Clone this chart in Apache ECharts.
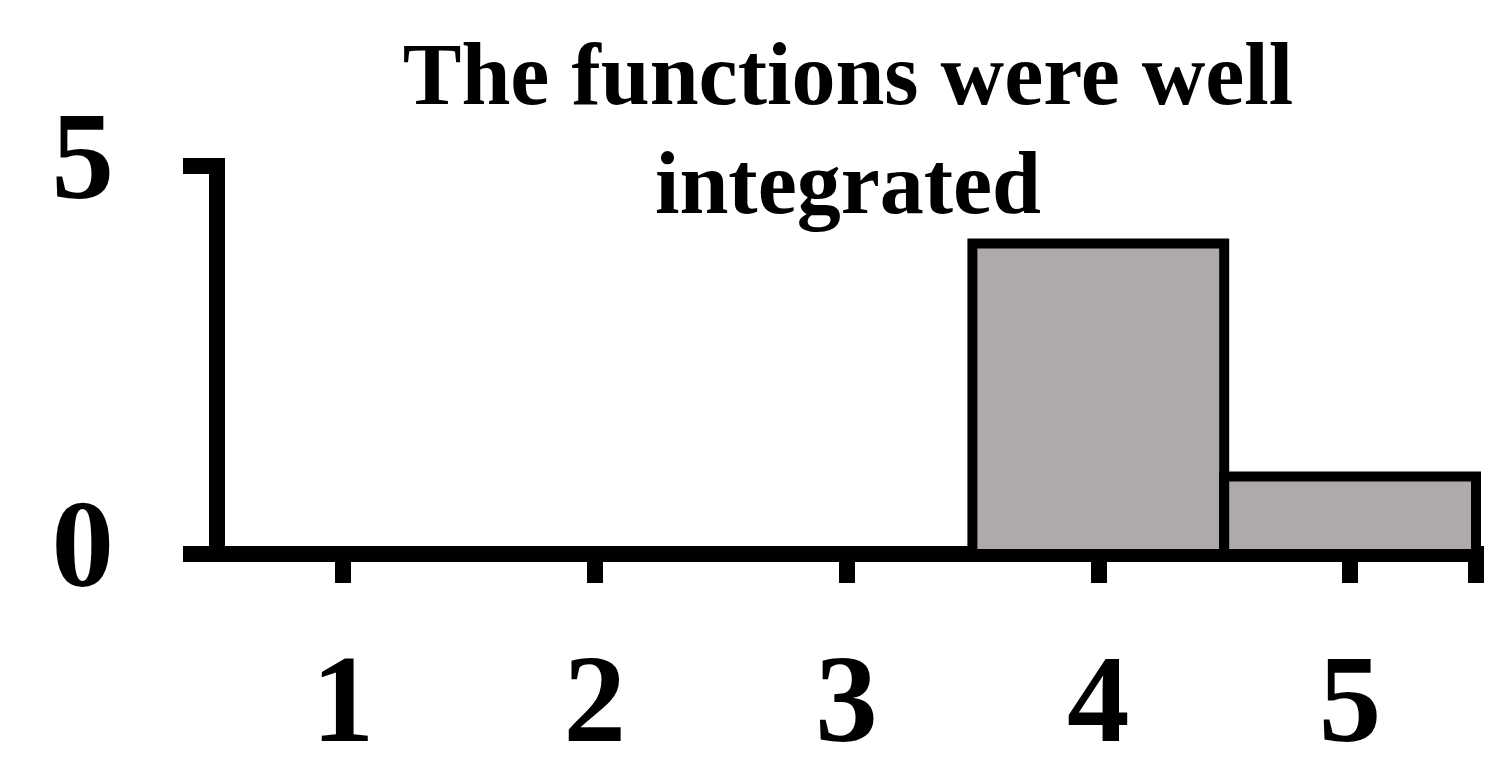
<!DOCTYPE html>
<html>
<head>
<meta charset="utf-8">
<script src="https://cdn.jsdelivr.net/npm/echarts@6/dist/echarts.min.js"></script>
<style>
  html, body { margin: 0; padding: 0; background: #fff; }
  #chart { width: 1493px; height: 782px; }
</style>
</head>
<body>
<div id="chart"></div>
<script>
// rating categories and counts
const categories = ['1', '2', '3', '4', '5'];
const counts = [0, 0, 0, 4, 1];
const titleText = 'The functions were well\nintegrated';
const yMin = 0;
const yMax = 5;

const serif = "'Liberation Serif', 'Times New Roman', serif";

const chart = echarts.init(document.getElementById('chart'), null, { renderer: 'canvas' });

// histogram bars: outline centred on the bar edges so neighbours share one line
function renderBar(params, api) {
    const idx = api.value(0);
    const val = api.value(1);
    if (!val) return null;
    const base = api.coord([idx, 0]);
    const top = api.coord([idx, val]);
    const w = api.size([1, 0])[0];
    return {
        type: 'rect',
        shape: { x: base[0] - w / 2, y: top[1], width: w, height: base[1] - top[1] },
        style: { fill: '#aeaaa9', stroke: '#000', lineWidth: 10 }
    };
}

const options = {
    backgroundColor: '#fff',
    animation: false,
    title: {
        text: titleText,
        left: 848,
        top: 27,
        textAlign: 'center',
        padding: 0,
        textStyle: { fontFamily: serif, fontWeight: 'bold', fontSize: 88, lineHeight: 109, color: '#000' }
    },
    grid: { left: 217, right: 17, top: 166, bottom: 228, containLabel: false },
    xAxis: [
        {
            type: 'category',
            data: categories,
            boundaryGap: true,
            axisLine: { lineStyle: { color: '#000', width: 16, cap: 'square' } },
            axisTick: { show: true, alignWithLabel: true, length: 29, lineStyle: { color: '#000', width: 16 } },
            axisLabel: { margin: 92, fontFamily: serif, fontWeight: 'bold', fontSize: 125, color: '#000' },
            splitLine: { show: false }
        },
        {
            // only draws the closing tick at the right end of the axis
            type: 'value',
            min: 0,
            max: 1,
            position: 'bottom',
            axisLine: { show: false },
            axisTick: { show: true, customValues: [1], length: 29, lineStyle: { color: '#000', width: 16 } },
            axisLabel: { show: false },
            splitLine: { show: false }
        }
    ],
    yAxis: {
        type: 'value',
        min: yMin,
        max: yMax,
        interval: 5,
        axisLine: { show: true, lineStyle: { color: '#000', width: 16, cap: 'square' } },
        axisTick: { show: true, length: 34, lineStyle: { color: '#000', width: 16 } },
        axisLabel: { margin: 103, fontFamily: serif, fontWeight: 'bold', fontSize: 125, color: '#000' },
        splitLine: { show: false }
    },
    series: [
        {
            type: 'custom',
            xAxisIndex: 0,
            yAxisIndex: 0,
            renderItem: renderBar,
            encode: { x: 0, y: 1 },
            data: counts.map((v, i) => [i, v])
        }
    ]
};

try {
    chart.setOption(options);
} catch (e) {
    console.error('Error setting options:', e);
}
</script>
</body>
</html>
